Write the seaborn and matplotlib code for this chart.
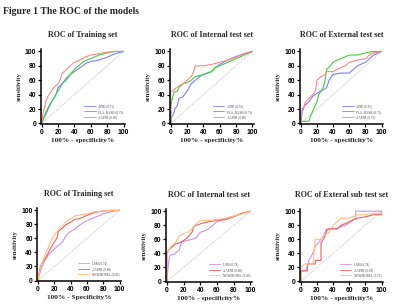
import pandas as pd
import numpy as np
import matplotlib
matplotlib.use('Agg')
import matplotlib.pyplot as plt
import seaborn as sns

# ROC points (x = 100% - specificity%, y = sensitivity)
train_apri_x = [0, 2, 5, 8, 12, 15, 18, 20, 25, 30, 35, 40, 45, 50, 55, 60, 70, 80, 90, 100]
train_apri_y = [0, 8, 12, 20, 30, 35, 42, 50, 55, 63, 68, 72, 76, 80, 84, 86, 88, 92, 97, 100]
train_fla_x = [0, 2, 5, 8, 12, 15, 20, 25, 30, 35, 40, 45, 50, 55, 60, 70, 80, 90, 100]
train_fla_y = [0, 5, 15, 22, 30, 35, 45, 55, 60, 68, 75, 80, 85, 88, 90, 95, 98, 100, 100]
train_aappr_x = [0, 1, 3, 5, 8, 12, 15, 20, 23, 25, 28, 30, 35, 40, 45, 50, 55, 60, 70, 80, 90, 100]
train_aappr_y = [0, 10, 20, 30, 38, 45, 50, 55, 62, 70, 72, 75, 80, 85, 87, 90, 93, 95, 97, 99, 100, 100]

int_apri_x = [0, 1, 3, 5, 8, 10, 15, 18, 20, 25, 30, 35, 40, 50, 55, 60, 70, 80, 90, 100]
int_apri_y = [0, 10, 12, 20, 25, 35, 37, 42, 45, 55, 60, 65, 68, 72, 78, 82, 88, 93, 97, 100]
int_fla_x = [0, 0, 2, 4, 8, 10, 15, 20, 25, 30, 40, 50, 55, 60, 70, 80, 90, 100]
int_fla_y = [0, 25, 35, 43, 45, 50, 55, 57, 60, 65, 68, 72, 78, 80, 85, 90, 95, 100]
int_aappr_x = [0, 0, 3, 5, 10, 15, 20, 25, 28, 30, 40, 50, 60, 70, 80, 90, 100]
int_aappr_y = [0, 45, 45, 48, 52, 55, 60, 65, 72, 80, 80, 82, 85, 88, 92, 97, 100]

ext_apri_x = [0, 2, 5, 10, 15, 20, 25, 30, 32, 35, 38, 40, 50, 60, 65, 70, 80, 90, 100]
ext_apri_y = [0, 20, 25, 30, 38, 42, 45, 48, 50, 60, 65, 68, 70, 70, 75, 80, 85, 95, 100]
ext_fla_x = [0, 0, 10, 12, 15, 18, 20, 22, 25, 28, 30, 32, 35, 40, 45, 50, 60, 70, 80, 90, 100]
ext_fla_y = [0, 3, 3, 10, 18, 25, 30, 40, 45, 50, 60, 75, 78, 85, 88, 90, 95, 95, 98, 100, 100]
ext_aappr_x = [0, 0, 3, 5, 10, 15, 18, 20, 22, 25, 30, 32, 40, 45, 50, 55, 60, 70, 80, 85, 90, 100]
ext_aappr_y = [0, 15, 18, 28, 35, 40, 45, 60, 62, 65, 68, 72, 72, 75, 78, 80, 85, 88, 90, 95, 98, 100]

tr2_lsm_x = [0, 2, 5, 8, 12, 15, 20, 25, 30, 35, 40, 45, 50, 55, 60, 65, 70, 80, 90, 100]
tr2_lsm_y = [0, 10, 20, 28, 35, 40, 45, 50, 55, 65, 70, 73, 78, 82, 85, 88, 90, 95, 98, 100]
tr2_aappr_x = [0, 1, 3, 5, 8, 12, 15, 20, 23, 25, 30, 35, 40, 45, 50, 55, 60, 70, 80, 90, 100]
tr2_aappr_y = [0, 10, 20, 25, 30, 38, 45, 55, 60, 70, 75, 80, 83, 87, 88, 90, 93, 97, 99, 100, 100]
tr2_new_x = [0, 1, 3, 5, 8, 12, 15, 20, 25, 30, 35, 40, 45, 50, 60, 70, 80, 90, 100]
tr2_new_y = [0, 8, 18, 25, 35, 45, 55, 65, 72, 78, 85, 88, 92, 93, 95, 98, 99, 100, 100]

int2_lsm_x = [0, 1, 3, 5, 8, 12, 15, 17, 20, 30, 35, 40, 45, 50, 55, 60, 70, 80, 90, 100]
int2_lsm_y = [0, 15, 35, 38, 38, 42, 45, 55, 57, 60, 62, 70, 72, 75, 80, 85, 90, 93, 97, 100]
int2_aappr_x = [0, 0, 2, 5, 10, 15, 20, 25, 30, 32, 35, 40, 50, 60, 70, 80, 90, 100]
int2_aappr_y = [0, 40, 45, 48, 53, 55, 58, 63, 70, 78, 80, 82, 85, 87, 88, 92, 97, 100]
int2_new_x = [0, 0, 2, 5, 10, 15, 20, 25, 30, 35, 40, 50, 60, 70, 80, 90, 100]
int2_new_y = [0, 35, 45, 50, 55, 65, 68, 70, 75, 82, 87, 87, 88, 90, 93, 96, 100]

sub_lsm_x = [0, 0, 5, 8, 10, 15, 18, 22, 25, 28, 30, 32, 45, 50, 55, 62, 68, 68, 100]
sub_lsm_y = [0, 15, 15, 20, 30, 40, 50, 55, 60, 65, 70, 75, 75, 78, 80, 85, 90, 100, 100]
sub_aappr_x = [0, 0, 8, 8, 18, 18, 25, 25, 28, 30, 32, 35, 45, 50, 60, 65, 70, 80, 90, 100, 100]
sub_aappr_y = [0, 15, 15, 25, 25, 30, 30, 55, 60, 65, 72, 75, 75, 80, 85, 88, 90, 92, 95, 95, 100]
sub_new_x = [0, 0, 5, 15, 18, 25, 28, 35, 40, 45, 50, 60, 70, 80, 90, 100, 100]
sub_new_y = [0, 20, 25, 25, 60, 60, 65, 70, 80, 85, 90, 90, 95, 95, 97, 97, 100]

panels = [
    ("ROC of Training set", "100% - specificity%",
     [("APRI (0.75)", train_apri_x, train_apri_y),
      ("FLA_RASH (0.73)", train_fla_x, train_fla_y),
      ("AAPPR (0.80)", train_aappr_x, train_aappr_y)]),
    ("ROC of Internal test set", "100% - specificity%",
     [("APRI (0.72)", int_apri_x, int_apri_y),
      ("FLA_RASH (0.73)", int_fla_x, int_fla_y),
      ("AAPPR (0.80)", int_aappr_x, int_aappr_y)]),
    ("ROC of External test set", "100% - specificity%",
     [("APRI (0.65)", ext_apri_x, ext_apri_y),
      ("FLA_RASH (0.75)", ext_fla_x, ext_fla_y),
      ("AAPPR (0.72)", ext_aappr_x, ext_aappr_y)]),
    ("ROC of Training set", "100% - Specificity%",
     [("LSM (0.74)", tr2_lsm_x, tr2_lsm_y),
      ("AAPPR (0.80)", tr2_aappr_x, tr2_aappr_y),
      ("NEWMODEL (0.83)", tr2_new_x, tr2_new_y)]),
    ("ROC of Internal test set", "100% - specificity%",
     [("LSM (0.74)", int2_lsm_x, int2_lsm_y),
      ("AAPPR (0.80)", int2_aappr_x, int2_aappr_y),
      ("NEWMODEL (0.83)", int2_new_x, int2_new_y)]),
    ("ROC of Exteral sub test set", "100% - specificity%",
     [("LSM (0.74)", sub_lsm_x, sub_lsm_y),
      ("AAPPR (0.69)", sub_aappr_x, sub_aappr_y),
      ("NEWMODEL (0.75)", sub_new_x, sub_new_y)]),
]

top_colors = ["#7f7fff", "#3fcf3f", "#ff8585"]
bottom_colors = ["#cf8fef", "#ef5f5f", "#ffbf7f"]

# axes boxes in figure fractions
boxes = [
    [0.102, 0.597, 0.211, 0.243],
    [0.425, 0.597, 0.210, 0.243],
    [0.750, 0.597, 0.208, 0.243],
    [0.093, 0.087, 0.210, 0.237],
    [0.415, 0.084, 0.215, 0.237],
    [0.750, 0.084, 0.208, 0.237],
]

sns.set_style("ticks")
serif = ['Liberation Serif', 'DejaVu Serif']
sans = ['Liberation Sans', 'DejaVu Sans']

fig = plt.figure(figsize=(4.0, 3.08), dpi=100)
fig.text(0.008, 0.978, "Figure 1 The ROC of the models", family=serif,
         fontweight='bold', fontsize=7.0, va='top', ha='left')

for i, (title, xlab, curves) in enumerate(panels):
    ax = fig.add_axes(boxes[i])
    colors = top_colors if i < 3 else bottom_colors
    rows = []
    for name, xs, ys in curves:
        for k, (xv, yv) in enumerate(zip(xs, ys)):
            rows.append({"model": name, "x": xv, "y": yv, "order": k})
    df = pd.DataFrame(rows)
    ax.plot([0, 100], [0, 100], color='#b8b8b8', lw=0.5, ls=(0, (1.5, 1.2)))
    sns.lineplot(data=df, x="x", y="y", hue="model", sort=False, estimator=None,
                 palette=dict(zip([c[0] for c in curves], colors)),
                 linewidth=0.8, ax=ax)
    ax.set_xlim(-1, 102)
    ax.set_ylim(-1, 103)
    ax.set_xticks([0, 20, 40, 60, 80, 100])
    ax.set_yticks([0, 20, 40, 60, 80, 100])
    for s in ['top', 'right']:
        ax.spines[s].set_visible(False)
    for s in ['left', 'bottom']:
        ax.spines[s].set_linewidth(1.1)
        ax.spines[s].set_color('black')
    ax.tick_params(length=2.2, width=0.9, pad=1, labelsize=4.9, colors='black')
    for lab in ax.get_xticklabels() + ax.get_yticklabels():
        lab.set_family(sans)
        lab.set_fontweight('bold')
    ax.set_title(title, family=serif, fontweight='bold', fontsize=5.8, pad=9)
    ax.set_xlabel(xlab, family=serif, fontweight='bold', fontsize=5.3, labelpad=2)
    ax.set_ylabel("sensitivity", family=serif, fontweight='bold', fontsize=4.8, labelpad=2.5)
    leg = ax.legend(loc='lower right', bbox_to_anchor=(1.0, 0.04), fontsize=2.3,
                    frameon=False, handlelength=3.5, handletextpad=0.8,
                    labelspacing=0.5, borderaxespad=0.2)
    for t in leg.get_texts():
        t.set_family(serif)
        t.set_color('#444444')
    for ln in leg.get_lines():
        ln.set_linewidth(0.6)

fig.savefig("out.png", dpi=100)
